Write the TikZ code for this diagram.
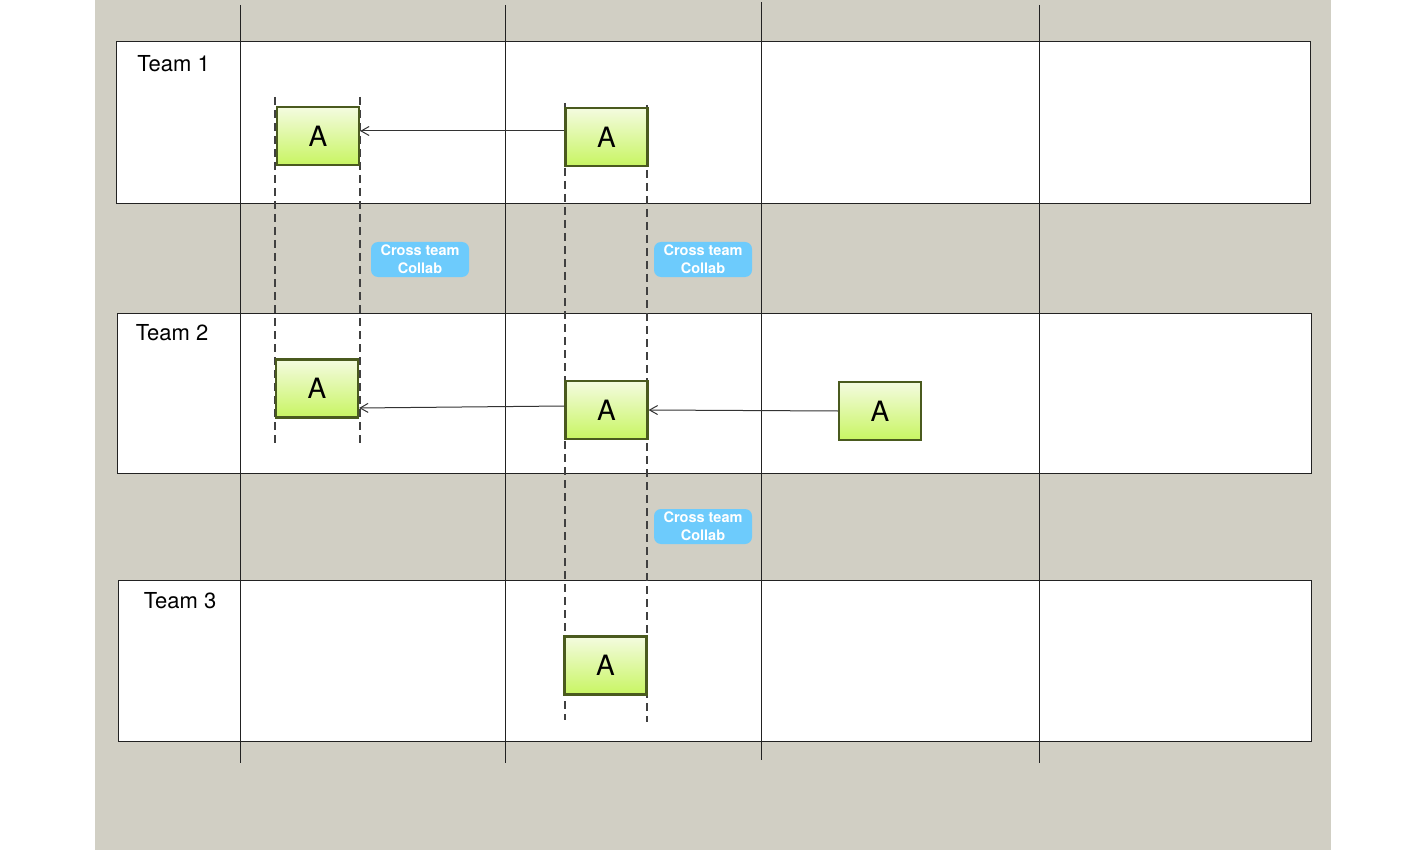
\documentclass[tikz,border=0pt]{standalone}
\usepackage{fontspec}
\setmainfont{TeX Gyre Heros}
\usetikzlibrary{arrows.meta}
\definecolor{bggray}{HTML}{D1CFC4}
\definecolor{boxedge}{HTML}{4A5A1E}
\definecolor{boxtop}{HTML}{F4FBE0}
\definecolor{boxbot}{HTML}{C8F562}
\definecolor{collab}{HTML}{6DCBFC}
\definecolor{gridline}{HTML}{222222}
\tikzset{
  band/.style={draw=gridline, fill=white, line width=1pt},
  gridv/.style={draw=gridline, line width=1pt},
  guide/.style={draw=black!75, line width=1.2pt, dash pattern=on 8pt off 5pt},
  abox/.style={draw=boxedge, line width=2.2pt, top color=boxtop, bottom color=boxbot,
    minimum width=82pt, minimum height=58pt, inner sep=0pt, font=\fontsize{28}{30}\selectfont},
  teamlbl/.style={font=\fontsize{22}{24}\selectfont, inner sep=0pt},
  collabtag/.style={fill=collab, rounded corners=7pt, minimum width=98pt, minimum height=35pt,
    inner sep=0pt, text=white, align=center, font=\bfseries\fontsize{14.5}{18}\selectfont},
  flow/.style={draw=black!80, line width=1pt, -{Straight Barb[length=8pt,width=9pt]}}
}
\begin{document}
\begin{tikzpicture}[x=1pt,y=-1pt]
\useasboundingbox (0,0) rectangle (1426,850);
\fill[bggray] (95,0) rectangle (1331,850);
% team bands
\draw[band] (116,42) rectangle (1310,204);
\draw[band] (117,313) rectangle (1311,473);
\draw[band] (118,580) rectangle (1311,741);
% vertical grid lines
\draw[gridv] (240,5) -- (240,763);
\draw[gridv] (505,5) -- (505,763);
\draw[gridv] (761,2) -- (761,760);
\draw[gridv] (1039,5) -- (1039,763);
% dashed guides
\draw[guide] (275,97) -- (275,445);
\draw[guide] (360,97) -- (360,445);
\draw[guide] (565,103) -- (565,720);
\draw[guide] (647,105) -- (647,722);
% team labels
\node[teamlbl] (t1) at (173.5,64) {Team 1};
\node[teamlbl] (t2) at (172,333) {Team 2};
\node[teamlbl] (t3) at (180,601) {Team 3};
% boxes
\node[abox] (a1) at (318,136) {A};
\node[abox] (b1) at (606.5,137) {A};
\node[abox] (a2) at (317,388.5) {A};
\node[abox] (b2) at (606.5,410) {A};
\node[abox] (c2) at (880,411) {A};
\node[abox] (b3) at (605.5,665.5) {A};
% connectors
\draw[flow] ([yshift=6pt]b1.west) -- ([yshift=5pt]a1.east);
\draw[flow] ([yshift=4pt]b2.west) -- ([yshift=-19.5pt]a2.east);
\draw[flow] (c2.west) -- (b2.east);
% collab tags
\node[collabtag] (k1) at (420,259.5) {Cross team\\Collab};
\node[collabtag] (k2) at (703,259.5) {Cross team\\Collab};
\node[collabtag] (k3) at (703,526.5) {Cross team\\Collab};
\end{tikzpicture}
\end{document}
